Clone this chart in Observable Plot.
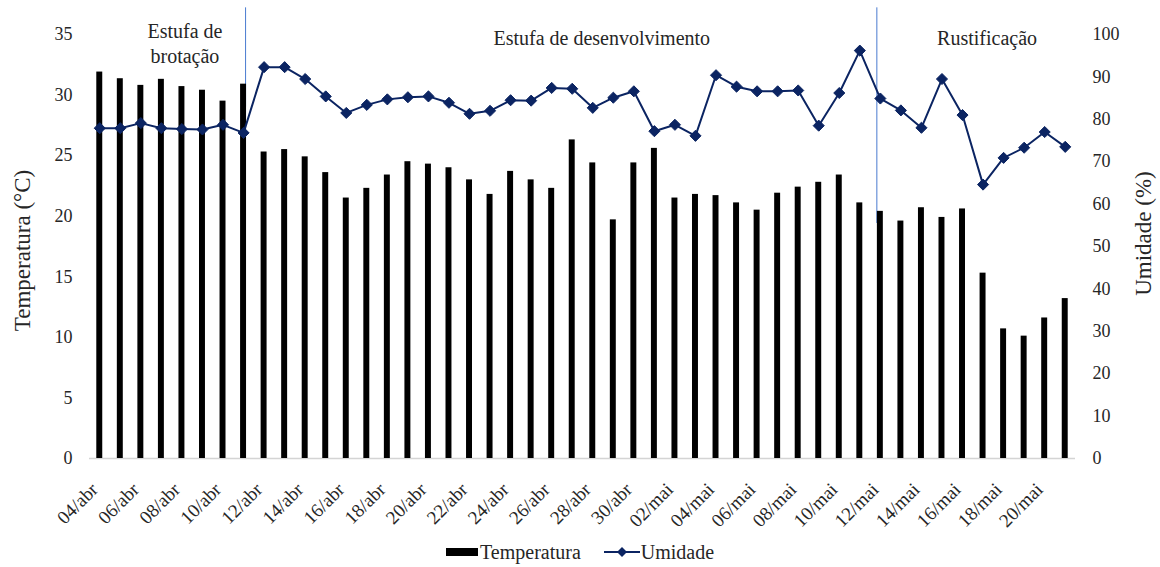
<!DOCTYPE html>
<html>
<head>
<meta charset="utf-8">
<script src="https://cdn.jsdelivr.net/npm/d3@7"></script>
<script src="https://cdn.jsdelivr.net/npm/@observablehq/plot@0.6"></script>
<style>
  html, body { margin: 0; padding: 0; background: #fff; }
  #wrap { position: relative; width: 1160px; height: 567px; font-family: "Liberation Serif", "Times New Roman", serif; color: #262626; }
  #legend { position: absolute; left: 446px; top: 539px; height: 26px; display: flex; align-items: center; font-size: 20px; white-space: nowrap; }
  #legend .item { display: flex; align-items: center; }
</style>
</head>
<body>
<div id="wrap">
  <div id="chart"></div>
  <div id="legend"></div>
</div>
<script>
const dates = ["04/abr","05/abr","06/abr","07/abr","08/abr","09/abr","10/abr","11/abr","12/abr","13/abr","14/abr","15/abr","16/abr","17/abr","18/abr","19/abr","20/abr","21/abr","22/abr","23/abr","24/abr","25/abr","26/abr","27/abr","28/abr","29/abr","30/abr","01/mai","02/mai","03/mai","04/mai","05/mai","06/mai","07/mai","08/mai","09/mai","10/mai","11/mai","12/mai","13/mai","14/mai","15/mai","16/mai","17/mai","18/mai","19/mai","20/mai","21/mai"];
const temperatura = [31.9,31.35,30.8,31.3,30.7,30.4,29.5,30.9,25.3,25.5,24.9,23.6,21.5,22.3,23.4,24.5,24.3,24.0,23.0,21.8,23.7,23.0,22.3,26.3,24.4,19.7,24.4,25.6,21.5,21.8,21.7,21.1,20.5,21.9,22.4,22.8,23.4,21.1,20.4,19.6,20.7,19.9,20.6,15.3,10.7,10.1,11.6,13.2];
const umidade = [77.9,77.9,79.1,77.9,77.7,77.6,78.7,76.8,92.3,92.3,89.5,85.4,81.5,83.4,84.7,85.2,85.4,83.9,81.3,82.0,84.5,84.4,87.4,87.2,82.7,85.1,86.6,77.2,78.7,76.1,90.4,87.7,86.6,86.6,86.8,78.5,86.2,96.2,84.9,82.1,78.0,89.5,81.0,64.6,70.9,73.3,77.0,73.5];
const xTickLabels = dates.filter((d, i) => i % 2 === 0);
const tempTicks = [0,5,10,15,20,25,30,35];
const humTicks = [0,10,20,30,40,50,60,70,80,90,100];
const phaseLabels = ["Estufa de\nbrotação", "Estufa de desenvolvimento", "Rustificação"];
const phaseAt = ["08/abr", "28/abr", "17/mai"];
const phaseDx = [3, 9, 4];
const phaseY = [34.3, 34.8, 34.8];
const dividerAt = ["11/abr", "12/mai"];
const dividerDx = [2, -3.5];
const dividerBottom = [29, 19.4];
const leftTitle = "Temperatura (°C)";
const rightTitle = "Umidade (%)";
const seriesNames = ["Temperatura", "Umidade"];

const ratio = 35 / 100; // humidity 0-100 mapped onto the temperature 0-35 scale
const rows = dates.map((d, i) => ({date: d, t: temperatura[i], h: umidade[i]}));
const phases = phaseLabels.map((l, i) => ({label: l, at: phaseAt[i], dx: phaseDx[i], y: phaseY[i]}));
const dividers = dividerAt.map((d, i) => ({at: d, dx: dividerDx[i], y1: dividerBottom[i], y2: 37.2}));

const serif = "'Liberation Serif', 'Times New Roman', serif";
const navy = "#0b2462";
const chart = Plot.plot({
  width: 1160,
  height: 530,
  marginLeft: 89,
  marginRight: 85,
  marginTop: 34,
  marginBottom: 72,
  style: {fontFamily: serif, fontSize: "18px", color: "#262626", background: "#fff"},
  x: {domain: dates, paddingInner: 0.71, paddingOuter: 0.355, round: false},
  y: {domain: [0, 35]},
  marks: [
    ...dividers.map(dv => Plot.ruleX([dv], {x: "at", y1: "y1", y2: "y2", dx: dv.dx, stroke: "#4a7bd0", strokeWidth: 1})),
    Plot.ruleY([0], {stroke: "#d4d4d4", strokeWidth: 1.5}),
    Plot.barY(rows, {x: "date", y: "t", fill: "#000"}),
    Plot.line(rows, {x: "date", y: d => d.h * ratio, stroke: navy, strokeWidth: 2}),
    Plot.dot(rows, {x: "date", y: d => d.h * ratio, symbol: "diamond2", r: 5, fill: navy, stroke: navy, strokeWidth: 1}),
    Plot.axisY({anchor: "left", ticks: tempTicks, tickSize: 0, tickPadding: 17, label: null, fontSize: 18, fontFamily: serif}),
    Plot.axisY({anchor: "right", ticks: humTicks.map(h => h * ratio), tickFormat: d => String(Math.round(d / ratio)), tickSize: 0, tickPadding: 17, label: null, fontSize: 18, fontFamily: serif}),
    Plot.axisX({ticks: xTickLabels, tickSize: 0, tickRotate: -45, tickPadding: 28, dx: -5, label: null, fontSize: 19, fontFamily: serif}),
    Plot.text([leftTitle], {frameAnchor: "left", textAnchor: "middle", rotate: -90, dx: -67, dy: 4, fontSize: 23, fontFamily: serif, fill: "#262626"}),
    Plot.text([rightTitle], {frameAnchor: "right", textAnchor: "middle", rotate: -90, dx: 68, dy: -13, fontSize: 23, fontFamily: serif, fill: "#262626"}),
    ...phases.map(p => Plot.text([p], {x: "at", y: "y", text: "label", dx: p.dx, fontSize: 20, lineHeight: 1.25, fontFamily: serif, fill: "#262626"}))
  ]
});
document.getElementById("chart").appendChild(chart);

const legend = document.getElementById("legend");
legend.innerHTML =
  `<div class="item"><svg width="34" height="10"><rect x="0" y="1" width="32" height="8" fill="#000"/></svg><span>${seriesNames[0]}</span></div>` +
  `<div class="item" style="margin-left:22px"><svg width="38" height="14"><line x1="1" y1="7" x2="37" y2="7" stroke="${navy}" stroke-width="2"/><path d="M19 2 L24 7 L19 12 L14 7 Z" fill="${navy}"/></svg><span>${seriesNames[1]}</span></div>`;
</script>
</body>
</html>
